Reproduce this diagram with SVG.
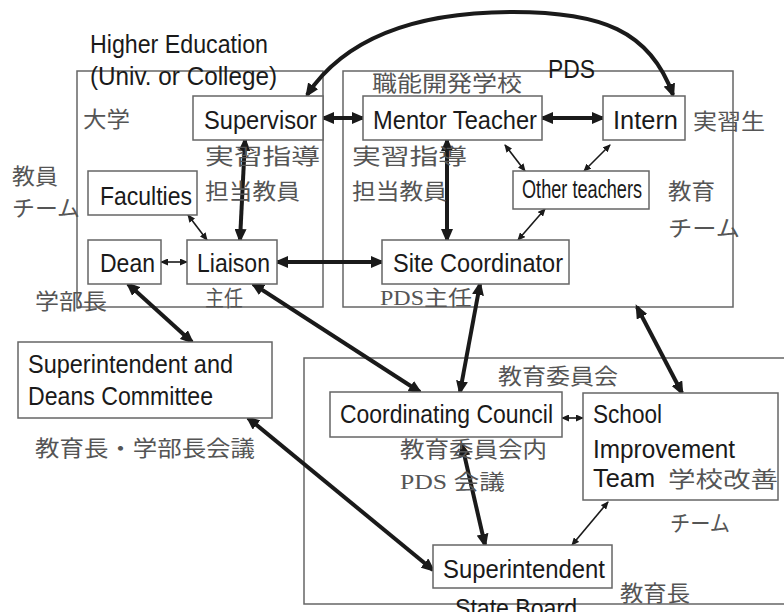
<svg xmlns="http://www.w3.org/2000/svg" width="784" height="612" viewBox="0 0 784 612">
<style>
.box{fill:#fff;stroke:#666;stroke-width:1.5}
.frame{fill:none;stroke:#666;stroke-width:1.5}
.en{font-family:"Liberation Sans",Arial,sans-serif;font-size:26px;fill:#1a1a1a}
.jp{font-family:"Noto Sans CJK JP",sans-serif;font-size:22px;fill:#555}
.jps{font-family:"Liberation Serif","Noto Sans CJK JP",serif;font-size:21px;fill:#555}
.thick{fill:none;stroke:#1a1a1a;stroke-width:4;marker-start:url(#hb);marker-end:url(#hb)}
.thin{fill:none;stroke:#1a1a1a;stroke-width:1.6;marker-start:url(#hs);marker-end:url(#hs)}
</style>
<defs>
<marker id="hb" viewBox="0 0 14 12" refX="11" refY="6" markerWidth="14" markerHeight="12" markerUnits="userSpaceOnUse" orient="auto-start-reverse"><path d="M0,0 L14,6 L0,12 z" fill="#1a1a1a"/></marker>
<marker id="hs" viewBox="0 0 8 7" refX="7" refY="3.5" markerWidth="8" markerHeight="7" markerUnits="userSpaceOnUse" orient="auto-start-reverse"><path d="M0,0 L8,3.5 L0,7 z" fill="#1a1a1a"/></marker>
</defs>

<g id="frames">
<rect class="frame" x="77" y="71" width="246" height="236"/>
<rect class="frame" x="343" y="71" width="390" height="236"/>
<path class="frame" d="M790 358 H304 V604 H790"/>
<text class="en" x="90" y="53" font-size="23" textLength="178" lengthAdjust="spacingAndGlyphs">Higher Education</text>
<text class="en" x="90" y="85" font-size="23" textLength="187" lengthAdjust="spacingAndGlyphs">(Univ. or College)</text>
<text class="en" x="548" y="78" font-size="21" textLength="47" lengthAdjust="spacingAndGlyphs">PDS</text>
<text class="jp" x="83" y="127" textLength="47" lengthAdjust="spacingAndGlyphs">大学</text>
<text class="jp" x="372" y="91" textLength="150" lengthAdjust="spacingAndGlyphs">職能開発学校</text>
<text class="jp" x="12" y="184" textLength="46" lengthAdjust="spacingAndGlyphs">教員</text>
<text class="jp" x="12" y="216" textLength="68" lengthAdjust="spacingAndGlyphs">チーム</text>
<text class="jp" x="668" y="199" textLength="47" lengthAdjust="spacingAndGlyphs">教育</text>
<text class="jp" x="668" y="236" textLength="72" lengthAdjust="spacingAndGlyphs">チーム</text>
<text class="jp" x="498" y="384" textLength="120" lengthAdjust="spacingAndGlyphs">教育委員会</text>
</g>

<g id="connectors">
<path class="thick" d="M307 95 C350 30, 430 12, 513 12 C600 12, 650 30, 673 95"/>
<line class="thick" x1="323" y1="118" x2="363" y2="118"/>
<line class="thick" x1="542" y1="118" x2="603" y2="118"/>
<line class="thick" x1="245" y1="140" x2="240" y2="240"/>
<line class="thick" x1="447" y1="140" x2="447" y2="240"/>
<line class="thin" x1="505" y1="145" x2="525" y2="171"/>
<line class="thin" x1="610" y1="145" x2="584" y2="171"/>
<line class="thin" x1="545" y1="209" x2="518" y2="240"/>
<line class="thin" x1="188" y1="215" x2="207" y2="240"/>
<line class="thin" x1="161" y1="262" x2="187" y2="262"/>
<line class="thick" x1="277" y1="262" x2="382" y2="262"/>
<line class="thick" x1="128" y1="284" x2="192" y2="342"/>
<line class="thick" x1="253" y1="284" x2="420" y2="392"/>
<line class="thick" x1="480" y1="284" x2="460" y2="392"/>
<line class="thick" x1="637" y1="307" x2="682" y2="393"/>
<line class="thin" x1="562" y1="418" x2="583" y2="418"/>
<line class="thick" x1="248" y1="418" x2="433" y2="570"/>
<line class="thick" x1="462" y1="445" x2="485" y2="545"/>
<line class="thin" x1="608" y1="502" x2="572" y2="545"/>
</g>

<g id="supervisor">
<rect class="box" x="193" y="96" width="130" height="44"/>
<text class="en" x="204" y="129" textLength="113" lengthAdjust="spacingAndGlyphs">Supervisor</text>
<text class="jp" x="205" y="164" textLength="115" lengthAdjust="spacingAndGlyphs">実習指導</text>
<text class="jp" x="205" y="199" textLength="95" lengthAdjust="spacingAndGlyphs">担当教員</text>
</g>
<g id="mentor">
<rect class="box" x="363" y="96" width="179" height="44"/>
<text class="en" x="373" y="129" textLength="164" lengthAdjust="spacingAndGlyphs">Mentor Teacher</text>
<text class="jp" x="352" y="164" textLength="115" lengthAdjust="spacingAndGlyphs">実習指導</text>
<text class="jp" x="352" y="199" textLength="95" lengthAdjust="spacingAndGlyphs">担当教員</text>
</g>
<g id="intern">
<rect class="box" x="603" y="96" width="82" height="44"/>
<text class="en" x="613" y="129" textLength="65" lengthAdjust="spacingAndGlyphs">Intern</text>
<text class="jp" x="693" y="129" textLength="72" lengthAdjust="spacingAndGlyphs">実習生</text>
</g>
<g id="faculties">
<rect class="box" x="88" y="171" width="109" height="44"/>
<text class="en" x="100" y="205" textLength="92" lengthAdjust="spacingAndGlyphs">Faculties</text>
</g>
<g id="other-teachers">
<rect class="box" x="513" y="171" width="136" height="38"/>
<text class="en" x="522" y="198" font-size="19" textLength="120" lengthAdjust="spacingAndGlyphs">Other teachers</text>
</g>
<g id="dean">
<rect class="box" x="88" y="240" width="73" height="44"/>
<text class="en" x="100" y="272" textLength="55" lengthAdjust="spacingAndGlyphs">Dean</text>
<text class="jp" x="35" y="309" textLength="72" lengthAdjust="spacingAndGlyphs">学部長</text>
</g>
<g id="liaison">
<rect class="box" x="187" y="240" width="90" height="44"/>
<text class="en" x="197" y="272" textLength="73" lengthAdjust="spacingAndGlyphs">Liaison</text>
<text class="jp" x="205" y="306" font-size="19" fill="#888" textLength="38" lengthAdjust="spacingAndGlyphs">主任</text>
</g>
<g id="site-coordinator">
<rect class="box" x="382" y="240" width="187" height="44"/>
<text class="en" x="393" y="272" textLength="170" lengthAdjust="spacingAndGlyphs">Site Coordinator</text>
<text class="jps" x="380" y="305" font-size="18" fill="#777" textLength="92" lengthAdjust="spacingAndGlyphs">PDS主任</text>
</g>
<g id="sup-deans">
<rect class="box" x="18" y="342" width="254" height="76"/>
<text class="en" x="28" y="373" textLength="205" lengthAdjust="spacingAndGlyphs">Superintendent and</text>
<text class="en" x="28" y="405" textLength="185" lengthAdjust="spacingAndGlyphs">Deans Committee</text>
<text class="jp" x="35" y="456" textLength="220" lengthAdjust="spacingAndGlyphs">教育長・学部長会議</text>
</g>
<g id="coordinating-council">
<rect class="box" x="330" y="392" width="232" height="45"/>
<text class="en" x="340" y="423" textLength="213" lengthAdjust="spacingAndGlyphs">Coordinating Council</text>
<text class="jp" x="400" y="457" textLength="147" lengthAdjust="spacingAndGlyphs">教育委員会内</text>
<text class="jps" x="400" y="489" textLength="105" lengthAdjust="spacingAndGlyphs">PDS 会議</text>
</g>
<g id="school-improvement-team">
<rect class="box" x="583" y="393" width="195" height="107"/>
<text class="en" x="593" y="423" textLength="69" lengthAdjust="spacingAndGlyphs">School</text>
<text class="en" x="593" y="458" textLength="142" lengthAdjust="spacingAndGlyphs">Improvement</text>
<text class="en" x="593" y="487" textLength="62" lengthAdjust="spacingAndGlyphs">Team</text>
<text class="jp" x="668" y="487" textLength="110" lengthAdjust="spacingAndGlyphs">学校改善</text>
<text class="jp" x="670" y="531" textLength="60" lengthAdjust="spacingAndGlyphs">チーム</text>
</g>
<g id="superintendent">
<rect class="box" x="433" y="545" width="179" height="43"/>
<text class="en" x="443" y="578" textLength="162" lengthAdjust="spacingAndGlyphs">Superintendent</text>
<text class="jp" x="620" y="601" textLength="70" lengthAdjust="spacingAndGlyphs">教育長</text>
</g>
<g id="state-board">
<text class="en" x="455" y="617" textLength="122" lengthAdjust="spacingAndGlyphs">State Board</text>
</g>
</svg>
